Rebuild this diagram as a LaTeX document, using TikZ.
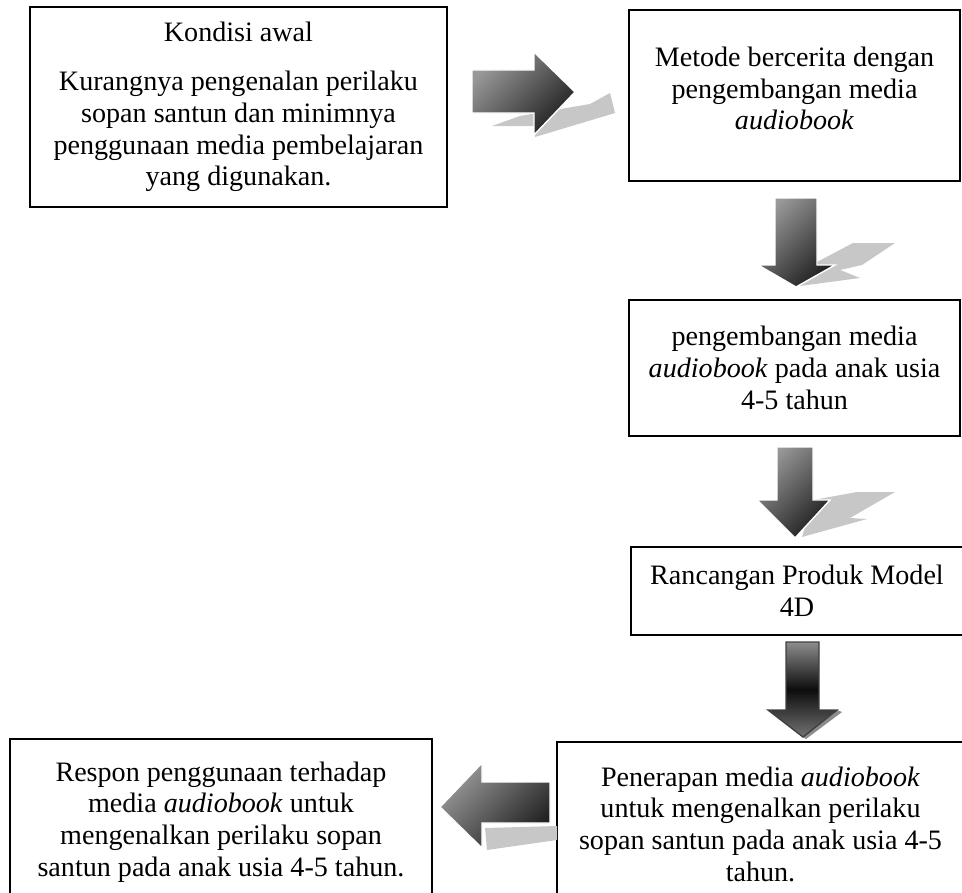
\documentclass[tikz,border=0pt]{standalone}
\usepackage{fontspec}
\setmainfont{Liberation Serif}

\begin{document}
\begin{tikzpicture}[x=0.02cm,y=-0.02cm,line width=1pt]
  \tikzstyle{every node}=[font=\fontsize{16}{18}\selectfont]
  \tikzstyle{box}=[draw,rectangle,align=center,inner sep=0pt]
  \tikzstyle{blockarrow}=[draw=white,line width=0.8pt,top color=black!40,bottom color=black!88,shading angle=45]
  \tikzstyle{arrowshadow}=[fill=black!22]

  \useasboundingbox (0,0) rectangle (962,892);
  \clip (0,0) rectangle (962,892);

  \node[box,minimum width=8.34cm,minimum height=4cm] (awal) at (238.5,107)
    {Kondisi awal\\[10pt]Kurangnya pengenalan perilaku\\ sopan santun dan minimnya\\ penggunaan media pembelajaran\\ yang digunakan.};
  \node[box,minimum width=6.62cm,minimum height=3.42cm] (metode) at (794.5,95.5)
    {Metode bercerita dengan\\ pengembangan media\\ \textit{audiobook}\\[-10pt]\mbox{}};
  \node[box,minimum width=6.62cm,minimum height=2.72cm] (media) at (794.5,368)
    {pengembangan media\\ \textit{audiobook} pada anak usia\\ 4-5 tahun};
  \node[box,minimum width=6.64cm,minimum height=1.76cm] (rancangan) at (797,591)
    {Rancangan Produk Model\\ 4D};
  \node[box,minimum width=8.14cm,minimum height=3.28cm] (penerapan) at (760.5,824)
    {Penerapan media \textit{audiobook}\\ untuk mengenalkan perilaku\\ sopan santun pada anak usia 4-5\\ tahun.};
  \node[box,minimum width=8.44cm,minimum height=3.32cm] (respon) at (221,822)
    {Respon penggunaan terhadap\\ media \textit{audiobook} untuk\\ mengenalkan perilaku sopan\\ santun pada anak usia 4-5 tahun.};

  % awal -> metode
  \fill[arrowshadow] (492,126) -- (520,116) -- (590,104) -- (610,93) -- (615,113) -- (535,137) -- (535,126) -- cycle;
  \path[blockarrow] (472,70) -- (534,70) -- (534,52) -- (575,92) -- (534,135) -- (534,113) -- (472,113) -- cycle;

  % metode -> media
  \fill[arrowshadow] (817,262) -- (853,243) -- (895,243) -- (862,265) -- (840,270) -- (860,278) -- (800,286) -- cycle;
  \path[blockarrow] (775,198) -- (817,198) -- (817,265) -- (835,265) -- (796,287) -- (758,265) -- (775,265) -- cycle;

  % media -> rancangan
  \fill[arrowshadow] (813,500) -- (857,492) -- (895,492) -- (850,518) -- (867,519) -- (802,537) -- cycle;
  \path[blockarrow] (777,447) -- (813,447) -- (813,500) -- (830,500) -- (795,538) -- (757,500) -- (777,500) -- cycle;

  % rancangan -> penerapan
  \fill[black!45] (837,710) -- (842,712) -- (806,739) -- (803,737) -- cycle;
  \path[draw=black!75,line width=0.8pt,top color=black!45,bottom color=black!55,middle color=black!95]
    (786,642) -- (819,642) -- (819,710) -- (837,710) -- (803,737) -- (768,710) -- (786,710) -- cycle;

  % penerapan -> respon
  \fill[arrowshadow] (485,828) -- (557,826) -- (557,840) -- (487,850) -- cycle;
  \path[blockarrow] (550,782) -- (482,782) -- (482,763) -- (440,807) -- (482,848) -- (482,823) -- (550,823) -- cycle;
\end{tikzpicture}
\end{document}
